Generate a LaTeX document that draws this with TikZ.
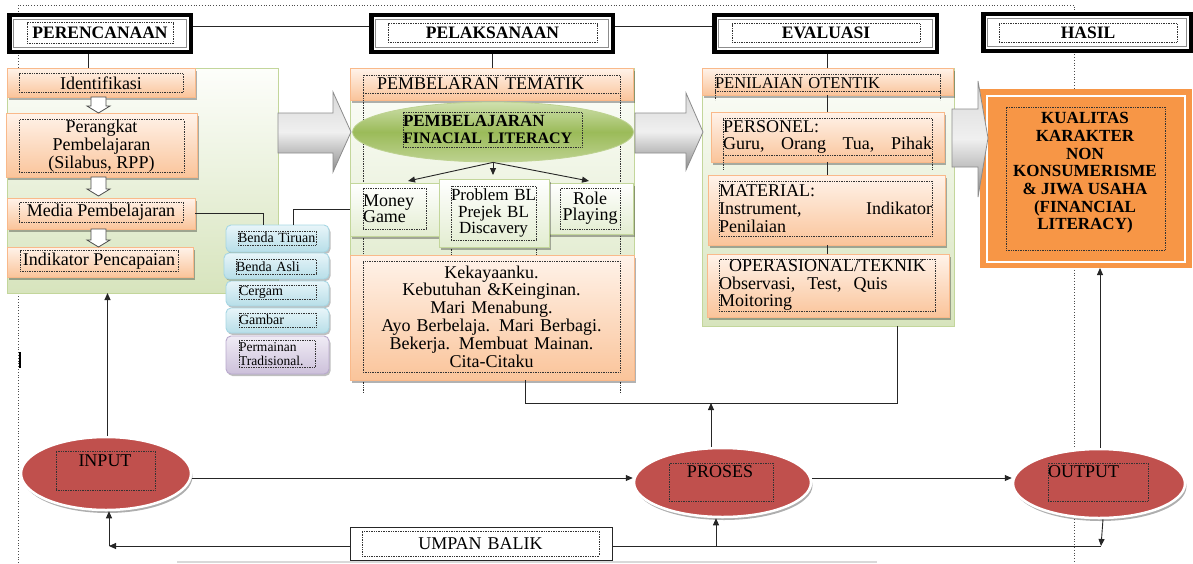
\documentclass[tikz,border=0pt]{standalone}
\usepackage{fontspec}
\setmainfont{Liberation Serif}
\usetikzlibrary{shapes.geometric,shadows,arrows.meta}
\definecolor{orTop}{HTML}{FFF3EA}
\definecolor{orBot}{HTML}{FAC49A}
\definecolor{orBord}{HTML}{F9B98A}
\definecolor{pnTop}{HTML}{FDFEFB}
\definecolor{pnBot}{HTML}{D7E4BD}
\definecolor{pnBord}{HTML}{C3D69B}
\definecolor{gbBot}{HTML}{E3EDD1}
\definecolor{elTop}{HTML}{CFE0AE}
\definecolor{elMid}{HTML}{9BBB59}
\definecolor{elBot}{HTML}{BDD290}
\definecolor{cyTop}{HTML}{E8F5F9}
\definecolor{cyBot}{HTML}{B7DEE8}
\definecolor{cyBord}{HTML}{A6D6E3}
\definecolor{puTop}{HTML}{F0ECF5}
\definecolor{puBot}{HTML}{CCC0DA}
\definecolor{puBord}{HTML}{B9A9CD}
\definecolor{redEl}{HTML}{C0504D}
\definecolor{hsOr}{HTML}{F79646}
\newcommand\dgbody{\fontsize{18}{18}\selectfont}
\newcommand\dghead{\fontsize{17.5}{18}\selectfont\bfseries}
\newcommand\dgsmall{\fontsize{14}{14}\selectfont}
\newcommand\dgmid{\fontsize{17}{16.5}\selectfont}
\newcommand\dgbold{\fontsize{17}{17.7}\selectfont\bfseries}
\newcommand\dgdown[3]{\draw[warrow] (#1-7.5,#2) -- (#1+7.5,#2) -- (#1+7.5,#3-7) -- (#1+11.5,#3-7) -- (#1,#3) -- (#1-11.5,#3-7) -- (#1-7.5,#3-7) -- cycle;}
\begin{document}
\begin{tikzpicture}[x=1pt,y=-1pt,
  bx/.style={anchor=north west, inner sep=0, outer sep=0},
  panel/.style={bx, draw=pnBord, line width=0.9, top color=pnTop, bottom color=pnBot},
  obox/.style={bx, draw=orBord, line width=0.9, top color=orTop, bottom color=orBot,
     drop shadow={shadow xshift=2pt, shadow yshift=-2.5pt, opacity=0.3, fill=black}},
  gbox/.style={bx, draw=pnBord, line width=0.9, top color=white, bottom color=gbBot,
     drop shadow={shadow xshift=2pt, shadow yshift=-2.5pt, opacity=0.3, fill=black}},
  cbox/.style={bx, rounded corners=5pt, draw=cyBord, line width=0.9, top color=cyTop, bottom color=cyBot,
     drop shadow={shadow xshift=1.5pt, shadow yshift=-2pt, opacity=0.25, fill=black}},
  pbox/.style={cbox, draw=puBord, top color=puTop, bottom color=puBot},
  hdr/.style={draw=black, line width=4.5, fill=white, inner sep=0, minimum height=37},
  hdrin/.style={draw=black!45, line width=1.3},
  tb/.style={draw=black!80, densely dotted, line width=0.7, inner sep=0},
  tbl/.style={draw=black!80, densely dotted, line width=0.7},
  conn/.style={draw=black!85, line width=0.9},
  arr/.style={conn, -{Triangle[length=7pt,width=6pt]}},
  outerframe/.style={draw=black!70, dotted, line width=0.8},
  garrow/.style={draw=black!45, line width=0.8, top color=black!15, bottom color=black!45, middle color=black!6},
  warrow/.style={draw=black!70, line width=0.8, fill=white},
  redel/.style={ellipse, fill=redEl, draw=white, line width=2.5, inner sep=0,
     drop shadow={shadow xshift=1.5pt, shadow yshift=-3pt, opacity=0.45, fill=black!70}},
]
\useasboundingbox (0,0) rectangle (1193,563);
% outer dotted frame and small marks
\draw[outerframe] (18,563) -- (18,5) -- (1074,5) -- (1074,563);
\draw[draw=black!15, line width=1.5] (177,562) -- (877,562);
\draw[line width=1.6] (20,352) -- (20,368);

% headers
\node[hdr, minimum width=181.5] (h1) at (100,33.5) {};
\node[hdr, minimum width=241.5] (h2) at (492,33.5) {};
\node[hdr, minimum width=222.5] (h3) at (825.5,33.5) {};
\node[hdr, minimum width=207.5] (h4) at (1087,32.5) {};
\foreach \h in {h1,h2,h3,h4}{
  \draw[hdrin] ([shift={(6.5,6.5)}]\h.north west) rectangle ([shift={(-6.5,-6.5)}]\h.south east);
}
\node[tb, minimum width=146, minimum height=21, font=\dghead] (h1t) at (100,33) {PERENCANAAN};
\node[tb, minimum width=209, minimum height=19, font=\dghead] (h2t) at (492.5,33) {PELAKSANAAN};
\node[tb, minimum width=188, minimum height=19, font=\dghead] (h3t) at (826,33) {EVALUASI};
\node[tb, minimum width=178, minimum height=19, font=\dghead] (h4t) at (1088,32.5) {HASIL};
\draw[conn] ([yshift=7.5pt]h1.east) -- ([yshift=7.5pt]h2.west);
\draw[conn] ([yshift=7.5pt]h2.east) -- ([yshift=7.5pt]h3.west);

% ---------- PERENCANAAN column ----------
\node[panel, minimum width=271, minimum height=225] (lpanel) at (7,68) {};
\draw[conn] ([xshift=-12pt]h1.south) -- ([xshift=-12pt]h1.south |- lpanel.north);
\node[obox, minimum width=188, minimum height=29] (ident) at (7,68) {};
\node[obox, minimum width=191, minimum height=64] (perangkat) at (6,113) {};
\node[obox, minimum width=188, minimum height=31] (media) at (7,198) {};
\node[obox, minimum width=186, minimum height=30] (indik) at (7,247) {};
\node[tb, minimum width=164, minimum height=19, font=\dgbody] (identT) at (101,83) {Identifikasi};
\node[tb, minimum width=165, minimum height=52, font=\dgbody, align=center] (perangkatT) at (101.5,146) {Perangkat\\Pembelajaran\\(Silabus, RPP)};
\node[tb, minimum width=164, minimum height=20, font=\dgbody] (mediaT) at (101,212) {Media Pembelajaran};
\node[tb, minimum width=158, minimum height=21, font=\dgbody] (indikT) at (99,261) {Indikator Pencapaian};
\dgdown{98.5}{97}{113}
\dgdown{98.5}{177}{196}
\dgdown{98.5}{229}{247}

% media boxes
\node[cbox, minimum width=103, minimum height=27] (tiruan) at (226,225) {};
\node[cbox, minimum width=105, minimum height=26] (asli) at (224,253) {};
\node[cbox, minimum width=103, minimum height=25] (cergam) at (226,281) {};
\node[cbox, minimum width=103, minimum height=25] (gambar) at (226,308) {};
\node[pbox, minimum width=103, minimum height=38] (perm) at (226,336) {};
\node[tb, text width=78, align=left, minimum height=14, font=\dgsmall] (tiruanT) at (277,238) {Benda Tiruan};
\node[tb, text width=80, align=left, minimum height=15, font=\dgsmall] (asliT) at (276,266.5) {Benda Asli};
\node[tb, text width=77, align=left, minimum height=14, font=\dgsmall] (cergamT) at (277.5,292) {Cergam};
\node[tb, text width=77, align=left, minimum height=14, font=\dgsmall] (gambarT) at (277.5,320) {Gambar};
\node[tb, text width=76, align=left, minimum height=27, font=\fontsize{13.5}{14}\selectfont] (permT) at (277,354) {Permainan\\Tradisional.};

% ---------- PELAKSANAAN column ----------
\node[panel, minimum width=284, minimum height=297] (mpanel) at (350,68) {};
\draw[conn] (h2.south) -- (h2.south |- mpanel.north);
\node[obox, minimum width=283, minimum height=32] (tematik) at (350,68) {};
\node[tb, text width=257, align=left, minimum height=18, font=\dgbody] (tematikT) at (491.5,84) {\hspace*{14pt}PEMBELARAN TEMATIK};
\draw[tbl] (363,93) -- (363,255);
\draw[tbl] (620,93) -- (620,255);
\draw[tbl] (363,380) -- (363,393);
\draw[tbl] (620,380) -- (620,393);
\draw[tbl] (451,240) -- (451,255);
\draw[tbl] (536,240) -- (536,255);
\node[ellipse, minimum width=281, minimum height=60, inner sep=0, draw=elBot, line width=0.8,
      top color=elTop, bottom color=elBot, middle color=elMid] (fl) at (493,132) {};
\node[tb, text width=179, align=left, minimum height=35, font=\dgbold] (flT) at (492.5,129.5) {PEMBELAJARAN\\{\fontsize{16}{16}\selectfont FINACIAL LITERACY}};
\node[gbox, minimum width=110, minimum height=53] (money) at (350,183) {};
\node[gbox, minimum width=103, minimum height=51] (role) at (530,183) {};
\node[gbox, minimum width=110, minimum height=68] (prob) at (439,179) {};
\node[tb, text width=63, align=left, minimum height=41, font=\fontsize{18}{16}\selectfont] (moneyT) at (394.5,208.5) {Money\\Game};
\node[tb, text width=85, align=center, minimum height=54, font=\dgmid] (probT) at (493.5,213) {Problem BL\\Prejek BL\\Discavery};
\node[tb, text width=60, align=center, minimum height=41, font=\fontsize{18}{16}\selectfont] (roleT) at (590,208.5) {Role\\Playing};
\coordinate (probTop) at ([yshift=4pt]prob.north);
\draw[arr] (fl.south) -- ([xshift=3pt,yshift=2pt]money.north);
\draw[arr] (fl.south) -- (fl.south |- probTop);
\draw[arr] (fl.south) -- ([xshift=7.5pt,yshift=2pt]role.north);
\node[obox, minimum width=284, minimum height=125] (kek) at (350,255) {};
\node[tb, text width=257, align=center, minimum height=111, font=\fontsize{18}{17.8}\selectfont] (kekT) at (491.5,316.5) {Kekayaanku.\\Kebutuhan \&Keinginan.\\Mari Menabung.\\Ayo Berbelaja. Mari Berbagi.\\Bekerja. Membuat Mainan.\\Cita-Citaku};

% media connectors
\draw[conn] (media.east) -| ([xshift=-14.5pt]tiruan.north);
\draw[conn] ([xshift=15.5pt]tiruan.north) |- (money.west);

% ---------- EVALUASI column ----------
\node[panel, minimum width=252, minimum height=258] (epanel) at (702,68) {};
\draw[conn] ([xshift=1.5pt]h3.south) -- ([xshift=1.5pt]h3.south |- epanel.north);
\node[obox, minimum width=251, minimum height=27] (penil) at (702,68) {};
\node[tb, text width=225, align=left, minimum height=17, font=\fontsize{16.5}{17}\selectfont] (penilT) at (827.5,83) {PENILAIAN OTENTIK};
\draw[tbl] (715,91.5) -- (715,100);
\draw[tbl] (940,91.5) -- (940,100);
\node[obox, minimum width=233, minimum height=50] (pers) at (711,112) {};
\node[obox, minimum width=237, minimum height=70] (mat) at (708,175) {};
\node[obox, minimum width=242, minimum height=63] (oper) at (707,254) {};
\draw[conn] (pers.north) -- (pers.north |- penil.south);
\draw[conn] (pers.south) -- (pers.south |- mat.north);
\draw[conn] (pers.south |- mat.south) -- (pers.south |- oper.north);
\draw[tbl] (723,155) -- (723,170);
\draw[tbl] (932,155) -- (932,170);
\node[tb, text width=209, align=left, minimum height=37, font=\fontsize{18}{17}\selectfont] (persT) at (827.5,136.5) {PERSONEL:\\\makebox[209pt][l]{Guru,\hfill Orang\hfill Tua,\hfill Pihak}};
\node[tb, text width=213, align=left, minimum height=55, font=\fontsize{18}{18}\selectfont] (matT) at (825.5,208.5) {MATERIAL:\\\makebox[213pt][l]{Instrument,\hfill Indikator}\\Penilaian};
\node[tb, text width=216, align=left, minimum height=52, font=\fontsize{18}{17.5}\selectfont] (operT) at (827,285) {\hspace*{10pt}OPERASIONAL/TEKNIK\\Observasi,\ \ Test,\ \ Quis\\Moitoring};

% ---------- HASIL ----------
\node[bx, fill=hsOr, minimum width=212, minimum height=179] (hasil) at (980,89) {};
\draw[white, line width=2] ([shift={(7,7)}]hasil.north west) rectangle ([shift={(-7,-6)}]hasil.south east);
\node[tb, minimum width=159, minimum height=143] (hasilbox) at (1085.5,178.5) {};
\node[font=\dgbold, align=center, inner sep=0] (hasilT) at (1085,173) {KUALITAS\\KARAKTER\\NON\\KONSUMERISME\\\& JIWA USAHA\\(FINANCIAL\\LITERACY)};

% block arrows between stages
\path[garrow] (278,113) -- (333,113) -- (333,92) -- (351,132) -- (333,172) -- (333,153) -- (278,153) -- cycle;
\path[garrow] (635,113) -- (686,113) -- (686,93) -- (703,132) -- (686,170) -- (686,153) -- (635,153) -- cycle;
\path[garrow] (952,109) -- (978,109) -- (978,81) -- (988,138) -- (978,197) -- (978,167) -- (952,167) -- cycle;

% ---------- bottom flow ----------
\node[redel, minimum width=170, minimum height=73] (inp) at (106,473.5) {};
\node[redel, minimum width=177, minimum height=69] (pro) at (722.5,482.5) {};
\node[redel, minimum width=172, minimum height=69] (out) at (1099,483.5) {};
\node[tb, minimum width=99, minimum height=39] (inpbox) at (105.5,470.5) {};
\node[font=\dgbody, inner sep=0] (inpT) at (105,461) {INPUT};
\node[tb, minimum width=104, minimum height=38] (probox) at (721,482) {};
\node[font=\dgbody, inner sep=0] (proT) at (720,472) {PROSES};
\node[tb, minimum width=100, minimum height=38] (outbox) at (1098,482) {};
\node[font=\dgbody, inner sep=0, anchor=west] (outT) at (1048,472) {OUTPUT};

\node[draw=black!85, line width=0.9, minimum width=262, minimum height=33, inner sep=0] (umpan) at (481,543.5) {};
\node[tb, text width=237, align=center, minimum height=25, font=\dgbody] (umpanT) at (480.5,543.5) {UMPAN BALIK};

\coordinate (fbk) at (897,403);
\draw[conn] ([xshift=33pt]kek.south) |- (fbk) -- (fbk |- epanel.south);

\coordinate (ipA) at ([yshift=-4.5pt]inp.east);
\draw[arr] (ipA) -- (ipA -| pro.west);
\coordinate (poA) at ([yshift=4.5pt]pro.east);
\draw[arr] (poA) -- (poA -| out.west);

\coordinate (inpTop) at ([xshift=1.5pt]inp.north);
\draw[arr] (inpTop) -- (inpTop |- lpanel.south);
\coordinate (proTop) at ([xshift=-11.5pt]pro.north);
\draw[arr] (proTop) -- (proTop |- fbk);
\coordinate (outTop) at ([xshift=1pt]out.north);
\draw[arr] (outTop) -- (outTop |- hasil.south);

\coordinate (fbl) at (109,546);
\coordinate (fbr) at (1101,546);
\coordinate (fbp) at (716,546);
\draw[arr] (fbl -| umpan.west) -- (fbl);
\draw[arr] (fbl) -- (fbl |- inp.south);
\draw[conn] (fbl -| umpan.east) -- (fbr);
\draw[arr] ([xshift=4pt]out.south) -- (fbr);
\draw[arr] (fbp) -- (fbp |- pro.south);
\end{tikzpicture}
\end{document}
